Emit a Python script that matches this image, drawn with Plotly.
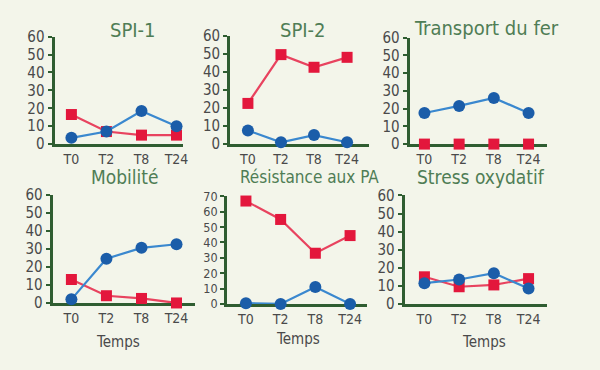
import plotly.graph_objects as go

times = ["T0", "T2", "T8", "T24"]

titles = ["SPI-1", "SPI-2", "Transport du fer", "Mobilité", "Résistance aux PA", "Stress oxydatif"]

spi1_red = [16.5, 7, 5, 5]
spi1_blue = [3.5, 7, 18.5, 10]
spi2_red = [22.5, 49.5, 42.5, 48]
spi2_blue = [7.5, 1, 5, 1]
fer_red = [0, 0, 0, 0]
fer_blue = [17.5, 21.5, 26, 17.5]
mob_red = [13, 4, 2.5, 0]
mob_blue = [2, 24.5, 30.5, 32.5]
res_red = [67, 55, 33, 44.5]
res_blue = [0.5, 0, 11, 0]
stress_red = [15, 9.5, 10.5, 14]
stress_blue = [11.5, 13.5, 17, 8.5]

reds = [spi1_red, spi2_red, fer_red, mob_red, res_red, stress_red]
blues = [spi1_blue, spi2_blue, fer_blue, mob_blue, res_blue, stress_blue]
ymax = [60, 60, 60, 60, 70, 60]

W, H = 600, 370
# layout in pixels: y-axis x, x-axis right end, T0 px, T24 px, top(ymax) px, zero px
geo = [
    (55, 185, 72, 178, 29, 142),
    (232, 372, 250, 350, 28, 142),
    (413, 552, 428, 533, 30, 142),
    (53, 197, 72, 178, 195, 309),
    (229, 370, 248, 353, 197, 310),
    (408, 552, 428, 533, 196, 310),
]
title_pos = [(134, 22, 20), (306, 22, 20), (491, 20, 20), (126, 177, 19), (312, 177, 17), (485, 177, 19)]
ytick_size = [15, 15, 15, 15, 12.5, 15]

RED_M = "#e3173c"
RED_L = "#e8435f"
BLUE_M = "#1b5da9"
BLUE_L = "#3a88cf"
GREEN = "#2f5d31"
TITLE_C = "#4f7d55"
TXT = "#4a4a4a"
FONT = "Liberation Sans Narrow, DejaVu Sans Condensed, Liberation Sans, sans-serif"

fig = go.Figure()
layout = {}
annotations = []
for i in range(6):
    n = "" if i == 0 else str(i + 1)
    xa, ya = "x" + n, "y" + n
    ax_l, ax_r, t0, t24, ytop, y0 = geo[i]
    scale = (t24 - t0) / 3.0
    xr = [(ax_l - t0) / scale, (ax_r - t0) / scale]
    red_all_zero = all(v == 0 for v in reds[i])
    fig.add_trace(go.Scatter(x=times, y=reds[i], xaxis=xa, yaxis=ya,
                             mode="markers" if red_all_zero else "lines+markers",
                             line=dict(color=RED_L, width=2.2),
                             marker=dict(symbol="square", size=11, color=RED_M),
                             cliponaxis=False, showlegend=False))
    fig.add_trace(go.Scatter(x=times, y=blues[i], xaxis=xa, yaxis=ya, mode="lines+markers",
                             line=dict(color=BLUE_L, width=2.2),
                             marker=dict(symbol="circle", size=12, color=BLUE_M),
                             cliponaxis=False, showlegend=False))
    layout["xaxis" + n] = dict(
        domain=[ax_l / W, ax_r / W], anchor=ya, type="category", range=xr,
        showline=True, linecolor=GREEN, linewidth=3, showgrid=False, zeroline=False,
        ticks="", tickfont=dict(family=FONT, size=14, color=TXT), layer="below traces",
        ticklabelstandoff=0, fixedrange=True,
    )
    layout["yaxis" + n] = dict(
        domain=[1 - y0 / H, 1 - ytop / H], anchor=xa, range=[0, ymax[i]],
        tickvals=list(range(0, ymax[i] + 1, 10)),
        showline=True, linecolor=GREEN, linewidth=3, showgrid=False, zeroline=False,
        ticks="outside", ticklen=4, tickwidth=1.5, tickcolor=GREEN,
        tickfont=dict(family=FONT, size=ytick_size[i], color=TXT), layer="below traces",
        fixedrange=True,
    )
    tx, ty, ts = title_pos[i]
    annotations.append(dict(text=titles[i], x=tx / W, y=1 - ty / H, xref="paper", yref="paper",
                            showarrow=False, xanchor="center", yanchor="middle",
                            font=dict(family=FONT, size=ts, color=TITLE_C)))

for (tx, ty) in [(119, 350), (301, 347), (488, 350)]:
    annotations.append(dict(text="Temps", x=tx / W, y=1 - ty / H, xref="paper", yref="paper",
                            showarrow=False, xanchor="center", yanchor="middle",
                            font=dict(family=FONT, size=15, color=TXT)))

fig.update_layout(**layout)
fig.update_layout(width=W, height=H, margin=dict(l=0, r=0, t=0, b=0),
                  paper_bgcolor="#f3f5ea", plot_bgcolor="#f3f5ea",
                  annotations=annotations)
fig.write_html("out.html", config={"displayModeBar": False},
               post_script="document.body.style.margin='0';document.body.style.padding='0';"
                           "document.body.style.background='#f3f5ea';")
